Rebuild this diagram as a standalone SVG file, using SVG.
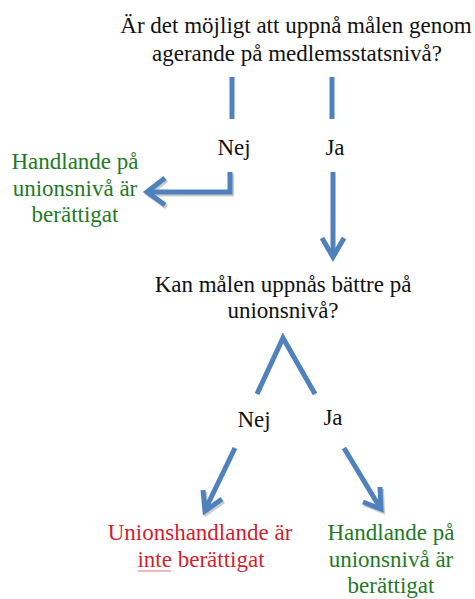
<svg xmlns="http://www.w3.org/2000/svg" width="475" height="599" viewBox="0 0 475 599">
<style>
.n{font-family:"Liberation Serif","Times New Roman",serif;font-size:23px;text-anchor:middle}
.q{fill:#111}
.g{fill:#1f7a25}
.r{fill:#d01f2f}
.c{fill:none;stroke:#4f81bd;stroke-width:5;stroke-linejoin:miter;stroke-linecap:butt}
.s{fill:none;stroke:#9aa0a8;stroke-width:5;opacity:0.55}
</style>
<rect width="475" height="599" fill="#fff"/>
<g id="q1" class="n">
<text class="q" x="296" y="33">Är det möjligt att uppnå målen genom</text>
<text class="q" x="297" y="61">agerande på medlemsstatsnivå?</text>
</g>
<g id="nej1" class="n"><text class="q" x="234" y="155">Nej</text></g>
<g id="ja1" class="n"><text class="q" x="335" y="155">Ja</text></g>
<g id="res1" class="n">
<text class="g" x="75" y="169">Handlande på</text>
<text class="g" x="75" y="196">unionsnivå är</text>
<text class="g" x="75" y="222">berättigat</text>
</g>
<g id="q2" class="n">
<text class="q" x="283" y="292">Kan målen uppnås bättre på</text>
<text class="q" x="283" y="318">unionsnivå?</text>
</g>
<g id="nej2" class="n"><text class="q" x="254" y="427">Nej</text></g>
<g id="ja2" class="n"><text class="q" x="333" y="425">Ja</text></g>
<g id="res2" class="n">
<text class="r" x="200" y="540">Unionshandlande är</text>
<text class="r" x="201" y="567">inte berättigat</text>
<line x1="138" y1="571" x2="171" y2="571" stroke="#e07080" stroke-width="1"/>
</g>
<g id="res3" class="n">
<text class="g" x="391" y="540">Handlande på</text>
<text class="g" x="391" y="567">unionsnivå är</text>
<text class="g" x="391" y="593">berättigat</text>
</g>
<g id="connectors">
<g transform="translate(1.5,2)">
<polyline class="s" points="230,172 230,192 148,192"/>
<polyline class="s" points="165,178 147,192 165,205"/>
<polyline class="s" points="203,490 205,511 222,499"/>
<polyline class="s" points="380,487 381,509 363,502"/>
</g>
<line class="c" x1="232" y1="77" x2="232" y2="119"/>
<line class="c" x1="332" y1="77" x2="332" y2="119"/>
<polyline class="c" points="230,172 230,192 148,192"/>
<polyline class="c" points="165,178 147,192 165,205"/>
<line class="c" x1="333" y1="172" x2="333" y2="255"/>
<polyline class="c" points="322,238 333,257 344,238"/>
<polyline class="c" points="257,394 283,338 315,394"/>
<line class="c" x1="235" y1="448" x2="206" y2="508"/>
<polyline class="c" points="203,490 205,511 222,499"/>
<line class="c" x1="344" y1="448" x2="379" y2="506"/>
<polyline class="c" points="380,487 381,509 363,502"/>
</g>
</svg>
